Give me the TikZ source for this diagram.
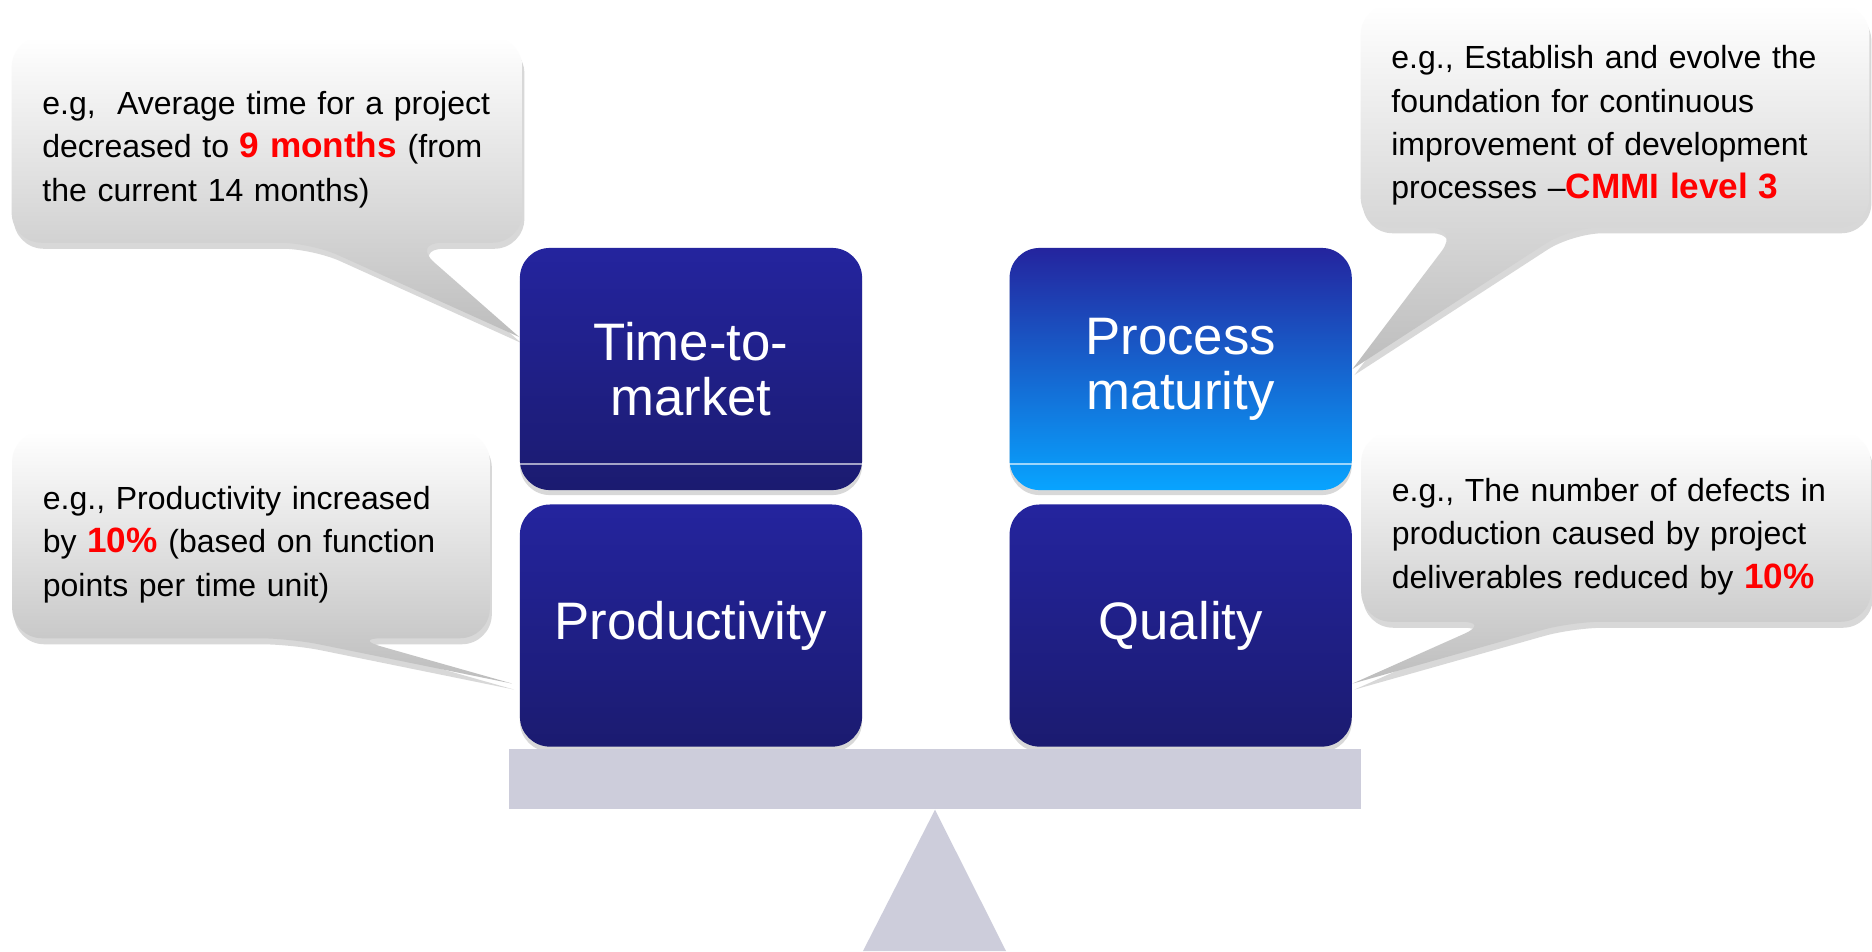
\documentclass[tikz,border=0pt]{standalone}
\usepackage{fontspec}
\setmainfont{Liberation Sans}
\usetikzlibrary{positioning, shadows, backgrounds}
\definecolor{navytop}{RGB}{36,36,158}
\definecolor{navybot}{RGB}{27,27,112}
\definecolor{skybot}{RGB}{8,164,255}
\definecolor{beamgray}{RGB}{205,205,219}
\newcommand{\keyfig}[1]{{\color{red}\bfseries\fontsize{10}{12.3}\selectfont #1}}
\tikzset{
node distance=0.13cm, % gap between the stacked blocks
pillar/.style={rectangle, rounded corners=0.3cm, minimum width=3.42cm, minimum height=2.42cm,
  top color=navytop, bottom color=navybot, text=white, align=center,
  font=\fontsize{15}{15.6}\selectfont,
  drop shadow={opacity=0.3, shadow xshift=0cm, shadow yshift=-0.05cm}}, % the four blue blocks
note/.style={rectangle, inner xsep=0.3cm, inner ysep=0pt, align=left,
  font=\fontsize{9.1}{12.3}\selectfont,
  execute at begin node={\rule{0pt}{12pt}}}, % text of a speech bubble, set a little low
bubble/.style={rounded corners=0.3cm, top color=white, middle color=white, bottom color=black!26,
  drop shadow={opacity=0.3, shadow xshift=0.02cm, shadow yshift=-0.06cm}}, % outline of a speech bubble
}

\begin{document}
\begin{tikzpicture}[x=0.01cm, y=-0.01cm]
    \useasboundingbox (0,0) rectangle (1872,951);

    \node[pillar] (ttm) at (691,369) {Time-to-\\market};
    \node[pillar, below=of ttm] (prod) {Productivity};
    \node[pillar, right=1.46cm of ttm, bottom color=skybot] (pm) {Process\\maturity};
    \node[pillar, below=of pm] (qual) {Quality};
    \draw[white, opacity=0.6, line width=0.5pt] ([yshift=0.27cm]ttm.south west) -- ([yshift=0.27cm]ttm.south east);
    \draw[white, opacity=0.6, line width=0.5pt] ([yshift=0.27cm]pm.south west) -- ([yshift=0.27cm]pm.south east);

    \node[fill=beamgray, minimum width=8.51cm, minimum height=0.6cm, inner sep=0pt] (plank) at (935,779) {};
    \fill[beamgray] (plank.south) -- (863,951) -- (1006,951) -- cycle;

    \node[note, minimum width=5.09cm, minimum height=2.04cm, text width=4.49cm] (tl) at (267,140)
        {e.g,~~Average time for a project\\decreased to \keyfig{9 months} (from\\the current 14 months)};
    \node[note, minimum width=5.07cm, minimum height=2.21cm, text width=4.47cm] (tr) at (1615,116)
        {e.g., Establish and evolve the\\foundation for continuous\\improvement of development\\processes –\keyfig{CMMI level 3}};
    \node[note, minimum width=4.76cm, minimum height=2.05cm, text width=4.16cm] (bl) at (251,535)
        {e.g., Productivity increased\\by \keyfig{10\%} (based on function\\points per time unit)};
    \node[note, minimum width=5.08cm, minimum height=1.88cm, text width=4.48cm] (br) at (1616,527)
        {e.g., The number of defects in\\production caused by project\\deliverables reduced by \keyfig{10\%}};

    % bubbles with their tails, behind the text
    \begin{pgfonlayer}{background}
        \fill[white] (0,0) rectangle (1872,951);
        \path[bubble] ([yshift=0.32cm]ttm.west) -- ([xshift=2.99cm]tl.south west) -- (tl.south west)
            -- (tl.north west) -- (tl.north east) -- (tl.south east) -- ([xshift=4cm]tl.south west) -- ([yshift=0.32cm]ttm.west);
        \path[bubble] (pm.east) -- ([xshift=0.99cm]tr.south west) -- (tr.south west)
            -- (tr.north west) -- (tr.north east) -- (tr.south east) -- ([xshift=2.1cm]tr.south west) -- (pm.east);
        \path[bubble] ([xshift=-0.07cm,yshift=-0.58cm]prod.west) -- ([xshift=2.77cm]bl.south west) -- (bl.south west)
            -- (bl.north west) -- (bl.north east) -- (bl.south east) -- ([xshift=3.4cm]bl.south west) -- ([xshift=-0.07cm,yshift=-0.58cm]prod.west);
        \path[bubble] ([yshift=-0.58cm]qual.east) -- ([xshift=1.3cm]br.south west) -- (br.south west)
            -- (br.north west) -- (br.north east) -- (br.south east) -- ([xshift=2.1cm]br.south west) -- ([yshift=-0.58cm]qual.east);
    \end{pgfonlayer}
\end{tikzpicture}
\end{document}
